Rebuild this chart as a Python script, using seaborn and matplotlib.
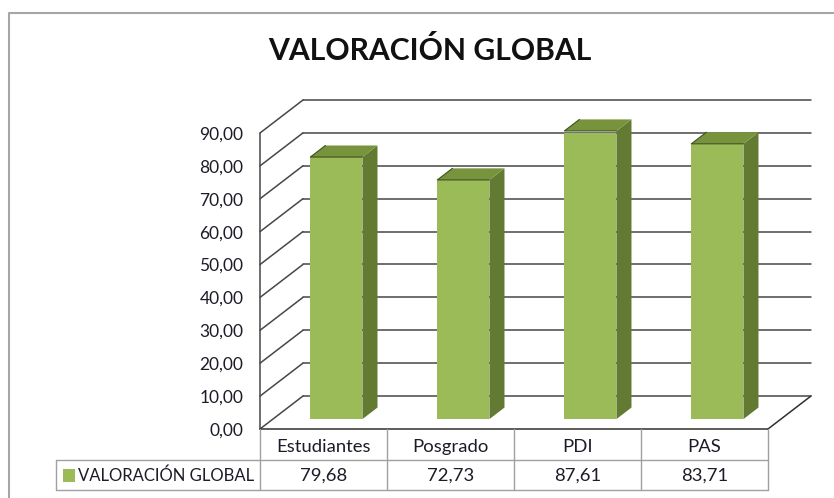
import matplotlib
matplotlib.use("Agg")
import matplotlib.pyplot as plt
from matplotlib.lines import Line2D
from matplotlib.patches import Polygon, Rectangle
from matplotlib.transforms import IdentityTransform, ScaledTranslation
import pandas as pd
import seaborn as sns

# data
categories = ["Estudiantes", "Posgrado", "PDI", "PAS"]
values = [79.68, 72.73, 87.61, 83.71]
series_name = "VALORACIÓN GLOBAL"
y_ticks = [0, 10, 20, 30, 40, 50, 60, 70, 80, 90]

FRONT = "#9BBB59"
SIDE = "#637A33"
TOP = "#77933C"
GRID = "#474747"
TABLE = "#a0a0a0"
TXT = "#1c1c28"

sns.set_theme(style="white")
plt.rcParams["font.family"] = ["Lato", "DejaVu Sans"]

W, H = 834, 498
fig = plt.figure(figsize=(W / 100, H / 100), dpi=100)

# front plane of the 3d box (pixels)
left, right, bottom, top = 260, 768, 429, 133
ax = fig.add_axes([left / W, 1 - bottom / H, (right - left) / W, (bottom - top) / H])
ax.patch.set_visible(False)

df = pd.DataFrame({"cat": categories, "val": values})
sns.barplot(data=df, x="cat", y="val", color=FRONT, saturation=1, width=0.41,
            ax=ax, zorder=3, edgecolor="none")
n = len(categories)
ax.set_xlim(-0.5, n - 0.5)
ax.set_ylim(0, 90)
ax.set_xticks([])
ax.set_xlabel("")
ax.set_ylabel("")
sns.despine(ax=ax, left=True, bottom=True)
ax.set_yticks(y_ticks, labels=[f"{v:.2f}".replace(".", ",") for v in y_ticks])
ax.tick_params(axis="y", length=0, pad=12, labelsize=12.5, labelcolor=TXT)

# depth of the box in pixels
DX, DY = 43, 33
D0, D1 = 0.3, 0.65  # bar front / back depth


def proj(x, v, d):
    px, py = ax.transData.transform((x, v))
    return (px + d * DX, py + d * DY)


def seg(p, q, color=GRID, lw=1.1, z=1):
    ax.add_line(Line2D([p[0], q[0]], [p[1], q[1]], color=color, lw=lw,
                       transform=IdentityTransform(), clip_on=False, zorder=z))


x0, x1 = -0.5, n - 0.5
for v in y_ticks:
    seg(proj(x0, v, 1), proj(x1, v, 1))
    seg(proj(x0, v, 0), proj(x0, v, 1))
seg(proj(x0, 0, 0), proj(x0, 90, 0))
seg(proj(x0, 0, 0), proj(x1, 0, 0), color="#303030")
seg(proj(x1, 0, 0), proj(x1, 0, 1), color="#303030")

# 3d bars: shift seaborn's front faces back, add side and top faces
off = ScaledTranslation(D0 * DX / 100, D0 * DY / 100, fig.dpi_scale_trans)
for p in ax.patches:
    bx0 = p.get_x()
    bx1 = bx0 + p.get_width()
    h = p.get_height()
    p.set_transform(ax.transData + off)
    side = [proj(bx1, 0, D0), proj(bx1, 0, D1), proj(bx1, h, D1), proj(bx1, h, D0)]
    topf = [proj(bx0, h, D0), proj(bx1, h, D0), proj(bx1, h, D1), proj(bx0, h, D1)]
    ax.add_patch(Polygon(side, closed=True, facecolor=SIDE, edgecolor="none",
                         transform=IdentityTransform(), clip_on=False, zorder=3))
    ax.add_patch(Polygon(topf, closed=True, facecolor=TOP, edgecolor="none",
                         transform=IdentityTransform(), clip_on=False, zorder=3))
    # dark rim on the left-front edge of the top face
    ax.add_line(Line2D([topf[3][0], topf[0][0], topf[1][0]], [topf[3][1], topf[0][1], topf[1][1]],
                       color="#3f4f20", lw=0.8, transform=IdentityTransform(),
                       clip_on=False, zorder=4))

# data table under the chart
xt = ax.get_xaxis_transform()
ph = bottom - top
r1 = 31 / ph
r2 = 61 / ph
xl = x0 - (left - 56) / ((right - left) / n)


def tline(xs, ys):
    ax.add_line(Line2D(xs, ys, color=TABLE, lw=1.0, transform=xt, clip_on=False, zorder=1))


for i in range(n + 1):
    tline([x0 + i, x0 + i], [0, -r2])
tline([xl, x1], [-r1, -r1])
tline([xl, x1], [-r2, -r2])
tline([xl, xl], [-r1, -r2])

for i, (c, v) in enumerate(zip(categories, values)):
    ax.text(i, -18 / ph, c, transform=xt, ha="center", va="center", fontsize=13.3, color=TXT)
    ax.text(i, -47 / ph, f"{v:.2f}".replace(".", ","), transform=xt,
            ha="center", va="center", fontsize=13.3, color=TXT)

fig.add_artist(Rectangle((63 / W, 1 - 482 / H), 12 / W, 13 / H, facecolor=FRONT,
                         edgecolor="none", transform=fig.transFigure))
fig.text(78 / W, 1 - 476 / H, series_name, ha="left", va="center", fontsize=12, color=TXT)

# outer frame and title
fig.add_artist(Line2D([9 / W, 9 / W, 1], [0, 1 - 13 / H, 1 - 13 / H], color="#a6a6a6",
                      lw=1.5, transform=fig.transFigure))
fig.text(430 / W, 1 - 50 / H, "VALORACIÓN GLOBAL", ha="center", va="center",
         fontsize=21.7, fontweight="bold", color="#111111")

fig.savefig("out.png", dpi=100)
